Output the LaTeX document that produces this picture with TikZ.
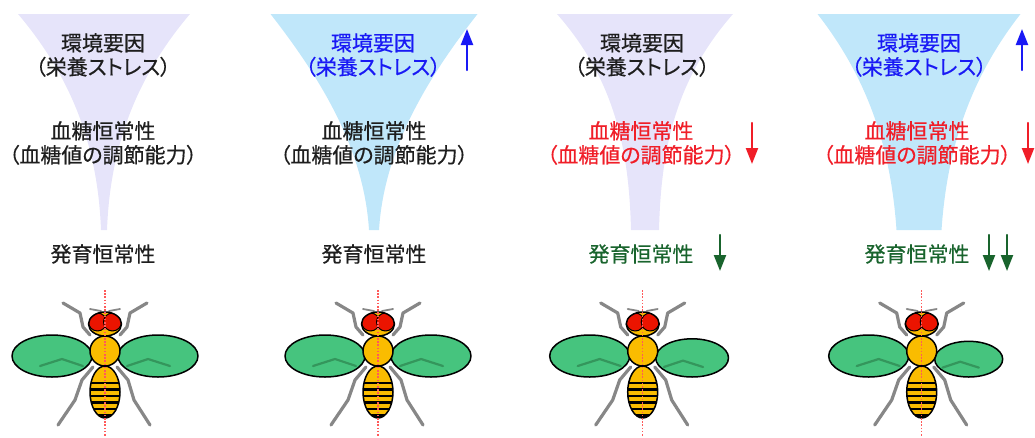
\documentclass[tikz,border=0pt]{standalone}
\usepackage{fontspec}
\newfontfamily\jp{Noto Sans CJK JP}[RawFeature=+palt, FakeBold=0.5]
\usetikzlibrary{arrows.meta}
\definecolor{fg}{RGB}{30,30,30}
\definecolor{lav}{RGB}{230,228,250}
\definecolor{sky}{RGB}{192,231,250}
\definecolor{up}{RGB}{25,25,245}
\definecolor{dn}{RGB}{240,30,40}
\definecolor{dev}{RGB}{25,100,45}
\definecolor{wing}{RGB}{70,196,126}
\definecolor{vein}{RGB}{52,150,92}
\definecolor{body}{RGB}{250,188,0}
\definecolor{eye}{RGB}{235,20,0}
\definecolor{leg}{RGB}{135,135,135}
\definecolor{mid}{RGB}{255,90,90}
\tikzset{
  every picture/.style={line cap=round, line join=round},
  % Beschriftung
  txt/.style={font=\jp\fontsize{21}{24}\selectfont, align=center, inner sep=0pt, fg},
  % Pfeile neben den Texten
  ind/.style={line width=2.2pt, -{Triangle[length=16pt,width=12pt]}},
  % Fliege
  outl/.style={draw=black, line width=1.5pt},
  legl/.style={leg, line width=3.2pt},
  midl/.style={mid, line width=1.3pt, dash pattern=on 1.6pt off 1.6pt, line cap=butt},
}
% Trichter: Mitte, halbe Breite oben, Kontrollpunkte, halbe Breite unten, Farbe
\newcommand\funnel[6]{%
  \fill[#6] (#1-#2,14) .. controls (#1-#3,80) and (#1-#4,150) .. (#1-#5,230)
    -- (#1+#5,230) .. controls (#1+#4,150) and (#1+#3,80) .. (#1+#2,14) -- cycle;}
% Fliege: x-Position, Größe des rechten Flügels
\newcommand\fly[2]{%
  \begin{scope}[shift={(#1,351)}]
    % Beine und Fühler
    \draw[legl] (-42,-48) -- (-25,-38) -- (-22,-24) -- (-15,-16);
    \draw[legl] (42,-48) -- (25,-38) -- (22,-24) -- (15,-16);
    \draw[legl] (-12,16) -- (-23,29) -- (-30,49) -- (-47,74);
    \draw[legl] (12,16) -- (23,29) -- (29,49) -- (45,74);
    \draw[leg, line width=1.8pt] (-15,-42) -- (-4,-40) (4,-40) -- (15,-42);
    % Flügel
    \begin{scope}[shift={(-53,5)}]
      \draw[outl, fill=wing] (0,0) ellipse [x radius=40, y radius=21];
      \draw[vein, line width=2.2pt] (-12,10) -- (10,3) -- (31,10);
    \end{scope}
    \begin{scope}[shift={(13+40*#2,26-21*#2)}, scale=#2]
      \draw[outl, fill=wing] (0,0) ellipse [x radius=40, y radius=21];
      \draw[vein, line width=2.2pt] (12,10) -- (-10,3) -- (-31,10);
    \end{scope}
    % Hinterleib mit Streifen
    \begin{scope}
      \clip (0,41) ellipse [x radius=15, y radius=26];
      \fill[body] (-16,14) rectangle (16,68);
      \foreach \s in {32,38.5,45,51.5,58}
        \fill (-16,\s-1.3) rectangle (16,\s+1.3);
      \fill (-16,63) rectangle (16,68);
    \end{scope}
    \draw[outl] (0,41) ellipse [x radius=15, y radius=26];
    % Brust und Kopf
    \draw[outl, fill=body] (0,0) circle [radius=15];
    \begin{scope}
      \clip (0,-27) ellipse [x radius=16.5, y radius=12];
      \fill[body] (-17,-39) rectangle (17,-15);
      \draw[black, line width=1pt, fill=eye] (-7.5,-29) ellipse [x radius=9, y radius=9];
      \draw[black, line width=1pt, fill=eye] (7.5,-29) ellipse [x radius=9, y radius=9];
    \end{scope}
    \draw[outl] (0,-27) ellipse [x radius=16.5, y radius=12];
    % Symmetrieachse
    \draw[midl] (0,-61) -- (0,86);
  \end{scope}}

\begin{document}
\begin{tikzpicture}[x=1pt, y=-1pt]
  \useasboundingbox (0,0) rectangle (1035,437);
  % Trichter
  \funnel{104}{86}{30}{6}{3}{lav}
  \funnel{374}{103.5}{52}{10}{5}{sky}
  \funnel{645}{88}{30}{16}{14}{lav}
  \funnel{919}{101.5}{50}{28}{22.5}{sky}
  % Spalte 1
  \node[txt] (env1) at (103,55) {環境要因\\（栄養ストレス）};
  \node[txt] (glu1) at (103,143) {血糖恒常性\\（血糖値の調節能力）};
  \node[txt] (dev1) at (103,254) {発育恒常性};
  % Spalte 2
  \node[txt, up] (env2) at (373,55) {環境要因\\（栄養ストレス）};
  \node[txt] (glu2) at (374,143) {血糖恒常性\\（血糖値の調節能力）};
  \node[txt] (dev2) at (374,254) {発育恒常性};
  \draw[ind, up] (467,70) -- (467,29);
  % Spalte 3
  \node[txt] (env3) at (642,55) {環境要因\\（栄養ストレス）};
  \node[txt, dn] (glu3) at (641,143) {血糖恒常性\\（血糖値の調節能力）};
  \node[txt, dev] (dev3) at (641,254) {発育恒常性};
  \draw[ind, dn] (752,123) -- (752,164);
  \draw[ind, dev] (720,235) -- (720,271);
  % Spalte 4
  \node[txt, up] (env4) at (919,55) {環境要因\\（栄養ストレス）};
  \node[txt, dn] (glu4) at (917,143) {血糖恒常性\\（血糖値の調節能力）};
  \node[txt, dev] (dev4) at (917,254) {発育恒常性};
  \draw[ind, up] (1022,70) -- (1022,29);
  \draw[ind, dn] (1028,123) -- (1028,164);
  \draw[ind, dev] (989,235) -- (989,271);
  \draw[ind, dev] (1007,235) -- (1007,271);
  % Fliegen
  \fly{105}{1}
  \fly{378}{1}
  \fly{642.7}{0.91}
  \fly{921.7}{0.85}
\end{tikzpicture}
\end{document}
